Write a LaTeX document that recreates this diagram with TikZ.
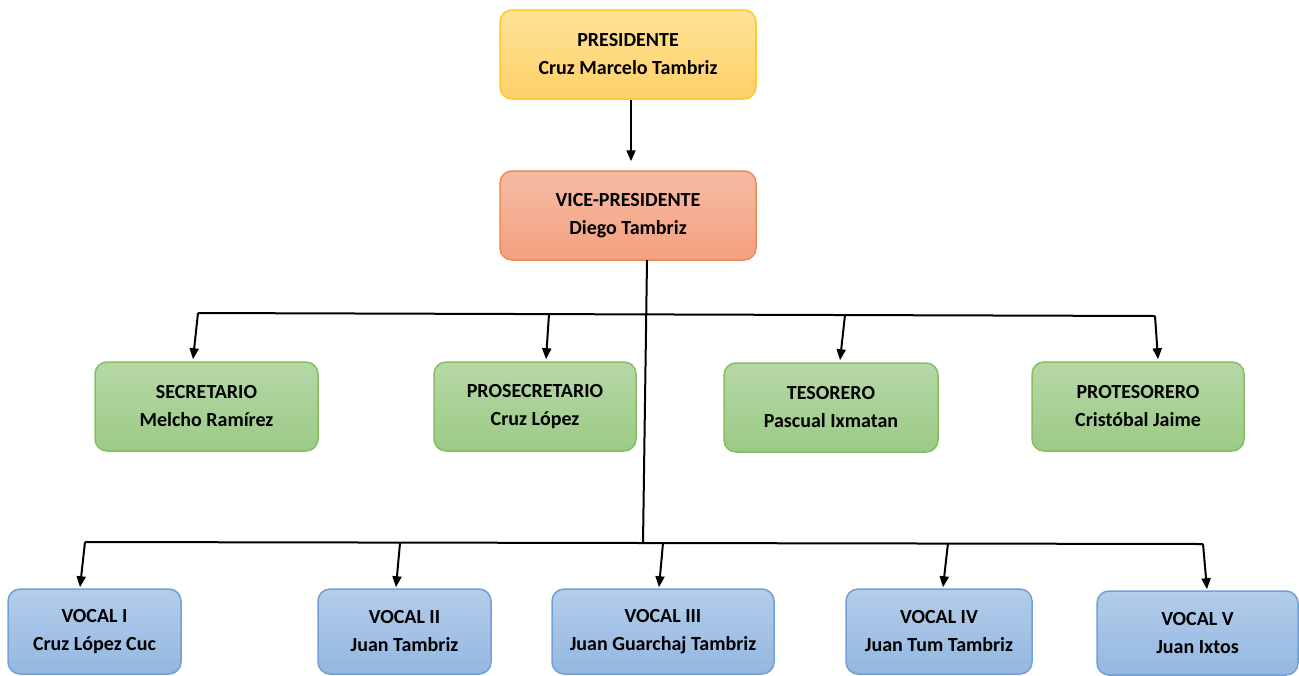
\documentclass[tikz,border=0pt]{standalone}
\usepackage{fontspec}
\setmainfont{Carlito}
\usepackage{tikz}
\usetikzlibrary{arrows.meta,positioning,calc}
\definecolor{yTop}{HTML}{FEE397}
\definecolor{yBot}{HTML}{FFD068}
\definecolor{yLine}{HTML}{FFC72C}
\definecolor{oTop}{HTML}{F5BCA3}
\definecolor{oBot}{HTML}{F4A080}
\definecolor{oLine}{HTML}{EE8A5A}
\definecolor{gTop}{HTML}{B6D8A7}
\definecolor{gBot}{HTML}{9CCA86}
\definecolor{gLine}{HTML}{86BE63}
\definecolor{bTop}{HTML}{B3CDEA}
\definecolor{bBot}{HTML}{94B7E1}
\definecolor{bLine}{HTML}{70A0D8}
\tikzset{
  card/.style={rounded corners=6pt,line width=.75pt,align=center,
               font=\bfseries\fontsize{10}{14}\selectfont,inner sep=2pt},
  headbox/.style={card,draw=yLine,top color=yTop,bottom color=yBot,
               minimum width=128pt,minimum height=44.5pt},
  vicebox/.style={card,draw=oLine,top color=oTop,bottom color=oBot,
               minimum width=128pt,minimum height=44.5pt},
  officebox/.style={card,draw=gLine,top color=gTop,bottom color=gBot,
               minimum height=44.5pt},
  vocalbox/.style={card,draw=bLine,top color=bTop,bottom color=bBot,
               minimum height=42.5pt},
  link/.style={line width=1pt,black},
  linkarrow/.style={link,-{Triangle[length=5.5pt,width=4.5pt]}},
}
\begin{document}
\begin{tikzpicture}[x=0.5pt,y=-0.5pt]
  \useasboundingbox (0,0) rectangle (1299,675);
  % top of the committee
  \node[headbox] (pres) at (628,54.5) {PRESIDENTE\\Cruz Marcelo Tambriz};
  \node[vicebox] (vice) at (628,215.5) {VICE-PRESIDENTE\\Diego Tambriz};
  \draw[linkarrow,shorten >=4.5pt] ([xshift=1.5pt]pres.south) -- ([xshift=1.5pt]vice.north);
  % officers
  \node[officebox,minimum width=111.5pt] (sec) at (206.5,406.5) {SECRETARIO\\Melcho Ramírez};
  \node[officebox,minimum width=101pt] (prosec) at (535,406.5) {PROSECRETARIO\\Cruz López};
  \node[officebox,minimum width=107pt] (teso) at (831,407.5) {TESORERO\\Pascual Ixmatan};
  \node[officebox,minimum width=106pt] (protes) at (1138,406.5) {PROTESORERO\\Cristóbal Jaime};
  % vocals
  \node[vocalbox,minimum width=86.5pt] (voc1) at (94.5,631.5) {VOCAL I\\Cruz López Cuc};
  \node[vocalbox,minimum width=86.5pt] (voc2) at (404.5,631.5) {VOCAL II\\Juan Tambriz};
  \node[vocalbox,minimum width=111pt] (voc3) at (663,631.5) {VOCAL III\\Juan Guarchaj Tambriz};
  \node[vocalbox,minimum width=93pt] (voc4) at (939,631.5) {VOCAL IV\\Juan Tum Tambriz};
  \node[vocalbox,minimum width=100.5pt,minimum height=42pt] (voc5) at (1197.5,633) {VOCAL V\\Juan Ixtos};
  % trunk and buses
  \coordinate (trunkA) at (647,260);
  \coordinate (trunkB) at (643,543);
  \coordinate (busAl) at (198,313);
  \coordinate (busAr) at (1155,316);
  \coordinate (busBl) at (85,542);
  \coordinate (busBr) at (1203,544);
  \draw[link] (trunkA) -- (trunkB);
  \draw[link] (busAl) -- (busAr);
  \draw[link] (busBl) -- (busBr);
  \foreach \nm/\bx/\by/\dx in {sec/198/313/-6.75, prosec/549/314/5.5,
                               teso/845/315/4.5, protes/1155/316/10}{
    \coordinate (tap\nm) at (\bx,\by);
    \draw[linkarrow] (tap\nm) -- ([xshift=\dx pt,yshift=1pt]\nm.north);
  }
  \foreach \nm/\bx/\by/\dx in {voc1/85/542/-7.25, voc2/400/543/-4.25,
                               voc3/663/543/-2, voc4/948/543/2, voc5/1203/544/4.75}{
    \coordinate (tap\nm) at (\bx,\by);
    \draw[linkarrow] (tap\nm) -- ([xshift=\dx pt,yshift=0.5pt]\nm.north);
  }
\end{tikzpicture}
\end{document}
